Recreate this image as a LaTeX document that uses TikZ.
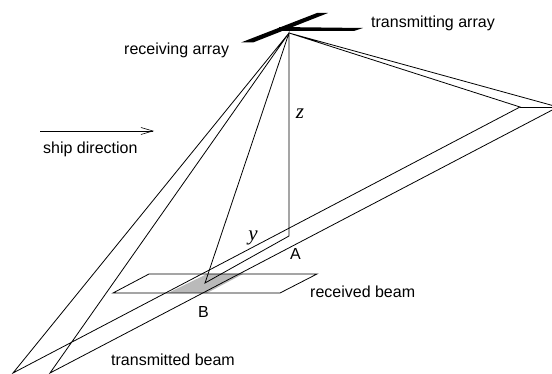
\documentclass[tikz,border=0pt]{standalone}
\usepackage{fontspec}
\setmainfont{Liberation Sans}
\newfontfamily\mathserif{Liberation Serif}
\usetikzlibrary{arrows.meta}
\tikzset{
  beam/.style={draw=black,line width=0.8pt},
  lab/.style={font=\fontsize{16}{18}\selectfont,inner sep=0pt,anchor=base west},
  var/.style={font=\mathserif\itshape\fontsize{21}{23}\selectfont,inner sep=0pt,anchor=base},
}
\begin{document}
\begin{tikzpicture}[x=1pt,y=-1pt]
\useasboundingbox (0,0) rectangle (552,374);
\clip (0,0) rectangle (552,374);
\coordinate (P) at (289,33);
\coordinate (L1) at (13,373);
\coordinate (L2) at (50,373);
\coordinate (R1) at (520,107);
\coordinate (R2) at (558,107);
\coordinate (A) at (289,236);
\coordinate (B) at (205,283);
\coordinate (PTL) at (149,274);
\coordinate (PTR) at (317,274);
\coordinate (PBR) at (280,293);
\coordinate (PBL) at (113,293);
\coordinate (S1) at (207,274);
\coordinate (S2) at (243,274);
\coordinate (S3) at (207,293);
\coordinate (S4) at (168,293);
\coordinate (Arr1) at (40,131);
\coordinate (Arr2) at (154,131);
% shaded footprint
\fill[black!27] (S1) -- (S2) -- (S3) -- (S4) -- cycle;
% received beam plane
\draw[beam] (PTL) -- (PTR) -- (PBR) -- (PBL) -- cycle;
% arrays
\fill (241,42.5) -- (317,13) -- (328,13) -- (253,42.5) -- cycle;
\fill (279,27) -- (363,28) -- (354,31) -- (279,31) -- cycle;
% transmitted and received beams
\draw[beam] (P) -- (L1) -- (R1) -- (P) -- (R2) -- (L2) -- cycle;
\draw[beam] (R1) -- (R2);
% geometry
\draw[beam] (P) -- (A) -- (B) -- cycle;
\draw[line width=0.6pt,-{Straight Barb[length=12pt,width=7pt,line width=0.6pt]}] (Arr1) -- (Arr2);
% labels
\node[lab] (tx) at (371,28) {transmitting array};
\node[lab] (rx) at (124,55) {receiving array};
\node[lab] (ship) at (43,154) {ship direction};
\node[lab] (nA) at (290,260) {A};
\node[lab] (nB) at (198,317) {B};
\node[lab] (rb) at (310,298) {received beam};
\node[lab] (tb) at (111,365) {transmitted beam};
\node[var] (z) at (300,119) {z};
\node[var] (y) at (253,241) {y};
\end{tikzpicture}
\end{document}
